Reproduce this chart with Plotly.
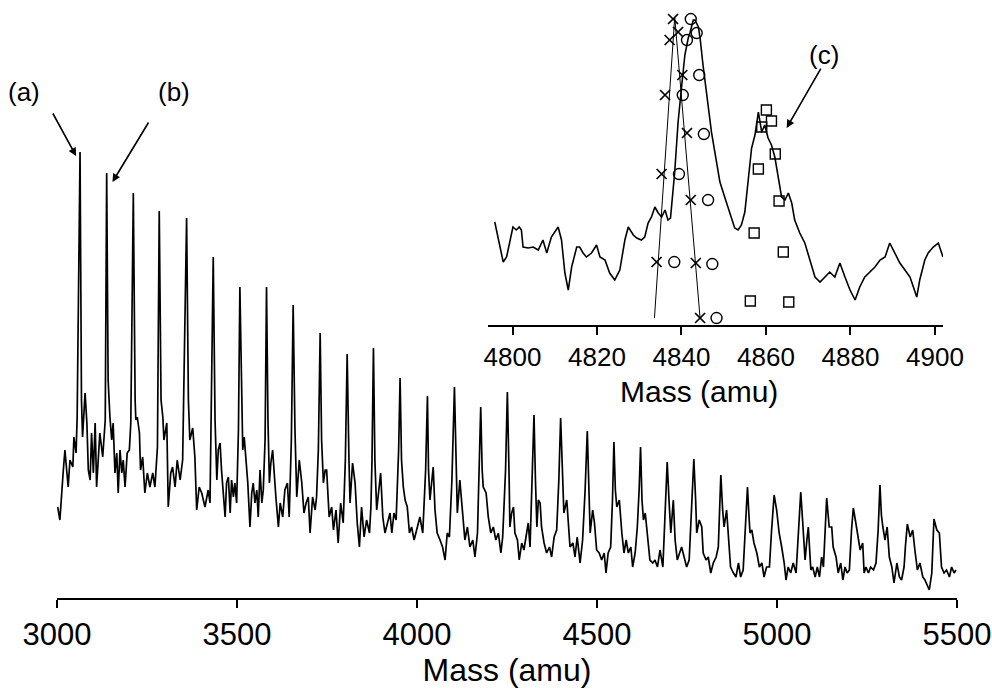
import plotly.graph_objects as go

FONT = "Liberation Sans, Arial, Helvetica, sans-serif"

# ---- main spectrum: mass (amu) and intensity (arb. units), one line per peak period ----
spec_mass = [
    3002, 3008, 3017, 3022, 3031, 3036, 3044, 3047, 3053, 3056,
    3064, 3068, 3071, 3078, 3083, 3087, 3092, 3096, 3101, 3106, 3110, 3115, 3119, 3127, 3131, 3134,
    3138, 3142, 3147, 3152, 3156, 3161, 3166, 3170, 3175, 3180, 3184, 3189, 3195, 3201, 3205,
    3212, 3217, 3219, 3223, 3229, 3232, 3238, 3244, 3251, 3258, 3266, 3272, 3279,
    3284, 3289, 3294, 3297, 3305, 3309, 3316, 3321, 3328, 3334, 3342, 3349,
    3360, 3365, 3369, 3377, 3383, 3388, 3395, 3402, 3411, 3420, 3425,
    3434, 3439, 3444, 3448, 3453, 3457, 3462, 3467, 3471, 3476, 3481, 3485, 3490, 3494, 3499, 3504,
    3508, 3513, 3516, 3520, 3525, 3530, 3536, 3541, 3545, 3550, 3555, 3559, 3564, 3569, 3573, 3578,
    3582, 3586, 3590, 3594, 3599, 3604, 3608, 3615, 3620, 3627, 3633, 3640, 3645, 3651,
    3656, 3661, 3666, 3673, 3680, 3686, 3692, 3698, 3703, 3710, 3717, 3721, 3726,
    3731, 3735, 3740, 3745, 3749, 3756, 3763, 3768, 3775, 3781, 3788, 3795, 3801,
    3806, 3811, 3814, 3821, 3828, 3834, 3840, 3846, 3853, 3860, 3868, 3872, 3875,
    3879, 3883, 3888, 3895, 3899, 3905, 3911, 3918, 3925, 3930, 3936, 3942, 3949,
    3953, 3957, 3962, 3967, 3973, 3979, 3985, 3992, 3999, 4008, 4016, 4024,
    4029, 4032, 4036, 4045, 4050, 4056, 4064, 4071, 4078, 4084, 4090, 4097,
    4104, 4108, 4112, 4119, 4127, 4133, 4140, 4147, 4155, 4161, 4168, 4172,
    4177, 4181, 4184, 4192, 4198, 4205, 4212, 4219, 4226, 4233, 4238, 4246,
    4251, 4256, 4258, 4263, 4268, 4272, 4279, 4284, 4291, 4297, 4303, 4309, 4314, 4319,
    4325, 4329, 4333, 4337, 4342, 4346, 4353, 4360, 4368, 4374, 4381, 4388, 4394,
    4399, 4404, 4408, 4416, 4420, 4425, 4433, 4439, 4445, 4453, 4460, 4467,
    4473, 4477, 4481, 4488, 4493, 4499, 4506, 4513, 4520, 4525, 4531, 4538, 4543,
    4547, 4551, 4555, 4562, 4569, 4575, 4581, 4587, 4594, 4599, 4606, 4612, 4617,
    4621, 4625, 4629, 4634, 4640, 4647, 4655, 4661, 4668, 4675, 4683, 4689,
    4695, 4700, 4705, 4712, 4717, 4723, 4731, 4735, 4742, 4749, 4756, 4762,
    4769, 4774, 4777, 4784, 4791, 4795, 4803, 4809, 4816, 4823, 4831, 4837,
    4844, 4849, 4853, 4860, 4865, 4871, 4879, 4886, 4893, 4899, 4906, 4912,
    4918, 4922, 4925, 4930, 4936, 4944, 4951, 4958, 4964, 4971, 4979, 4985,
    4992, 4999, 5006, 5013, 5020, 5025, 5031, 5038, 5045, 5053, 5059,
    5066, 5071, 5078, 5083, 5087, 5094, 5099, 5106, 5112, 5118, 5124, 5129, 5133,
    5138, 5145, 5152, 5156, 5164, 5170, 5177, 5183, 5189, 5195, 5201, 5207,
    5212, 5219, 5226, 5231, 5238, 5242, 5247, 5254, 5260, 5268, 5275, 5281,
    5286, 5290, 5294, 5300, 5306, 5312, 5319, 5325, 5333, 5340, 5346, 5353, 5357,
    5362, 5370, 5377, 5383, 5390, 5397, 5405, 5411, 5418, 5423, 5430,
    5436, 5444, 5451, 5457, 5464, 5471, 5479, 5485, 5492, 5497,
]
spec_int = [
    91, 78, 125, 148, 111, 138, 131, 161, 145, 181,
    446, 198, 161, 205, 175, 128, 118, 165, 125, 175, 111, 141, 165, 141, 158, 178,
    425, 218, 181, 158, 175, 125, 145, 105, 148, 125, 138, 111, 145, 148, 175,
    405, 198, 178, 181, 165, 128, 141, 105, 125, 111, 125, 111, 151,
    387, 198, 181, 158, 175, 91, 125, 131, 111, 138, 118, 138,
    380, 198, 158, 170, 141, 88, 111, 105, 91, 108, 95,
    341, 178, 118, 148, 155, 128, 108, 81, 115, 121, 85, 118, 101, 115, 95, 168,
    311, 178, 148, 161, 135, 115, 71, 105, 115, 95, 108, 81, 128, 95, 108, 158,
    311, 178, 115, 135, 148, 115, 101, 71, 95, 81, 108, 115, 81, 158,
    293, 168, 101, 138, 115, 85, 95, 101, 65, 101, 88, 101, 148,
    265, 158, 115, 128, 128, 81, 91, 68, 88, 55, 95, 75, 138,
    244, 138, 95, 135, 115, 75, 51, 91, 61, 78, 65, 91, 138,
    250, 138, 88, 111, 125, 81, 65, 75, 85, 65, 85, 78, 148,
    220, 138, 111, 98, 91, 65, 71, 58, 68, 81, 65, 128,
    202, 128, 98, 131, 88, 65, 58, 51, 38, 65, 61, 118,
    211, 128, 85, 118, 78, 58, 71, 51, 58, 41, 65, 118,
    191, 128, 111, 105, 81, 65, 71, 58, 65, 45, 61, 128,
    206, 118, 71, 85, 91, 65, 58, 38, 55, 48, 61, 75, 51, 108,
    183, 118, 71, 98, 95, 71, 55, 45, 51, 41, 61, 68, 118,
    180, 118, 85, 98, 78, 51, 55, 41, 61, 35, 58, 108,
    167, 108, 65, 88, 75, 48, 45, 38, 45, 25, 45, 51, 98,
    156, 108, 91, 98, 65, 45, 58, 45, 51, 31, 45, 71, 108,
    151, 98, 78, 85, 65, 38, 35, 38, 31, 48, 31, 78,
    136, 98, 65, 98, 58, 38, 48, 51, 41, 31, 38, 88,
    139, 98, 65, 78, 71, 45, 38, 41, 25, 35, 41, 51,
    123, 88, 71, 88, 65, 31, 25, 21, 35, 21, 28, 68,
    111, 83, 65, 68, 55, 45, 31, 35, 21, 31, 31, 68,
    103, 88, 65, 51, 35, 18, 31, 25, 35, 25, 58,
    106, 78, 38, 58, 71, 28, 31, 21, 31, 21, 41, 31, 68,
    100, 71, 71, 51, 41, 25, 35, 18, 31, 25, 28, 68,
    90, 75, 58, 48, 55, 25, 31, 25, 31, 28, 35, 68,
    113, 83, 71, 58, 71, 41, 31, 15, 35, 21, 18, 31, 53,
    74, 61, 68, 48, 28, 35, 21, 18, 11, 8, 25,
    79, 68, 65, 31, 25, 28, 21, 31, 25, 28,
]

# ---- inset: zoom on the 4800-4900 amu region ----
inset_mass = [
    4795.8, 4797.8, 4798.6, 4799.8, 4800.1, 4800.9, 4801.6, 4802.1, 4802.5, 4803.7,
    4804.9, 4806.1, 4807.2, 4808.1, 4809.2, 4810.8, 4811.6, 4812.4, 4813.2, 4814.0,
    4815.2, 4815.9, 4816.7, 4817.5, 4818.7, 4819.9, 4820.7, 4821.9, 4823.0, 4824.2,
    4825.4, 4826.6, 4827.4, 4828.6, 4829.4, 4830.5, 4831.3, 4832.1, 4832.9, 4833.7,
    4834.5, 4835.3, 4836.1, 4836.8, 4837.4, 4838.4, 4839.2, 4840.0, 4840.8, 4841.6,
    4842.0, 4842.8, 4843.2, 4844.0, 4844.4, 4845.1, 4845.9, 4847.1, 4848.3, 4849.1,
    4850.3, 4851.5, 4852.6, 4853.4, 4854.2, 4855.0, 4855.8, 4856.6, 4857.4, 4858.2,
    4859.0, 4859.7, 4860.5, 4861.3, 4862.1, 4862.9, 4863.7, 4864.5, 4865.3, 4866.1,
    4866.8, 4868.0, 4869.2, 4870.4, 4871.6, 4872.8, 4874.0, 4875.1, 4876.3, 4877.5,
    4878.7, 4879.9, 4881.1, 4882.2, 4883.4, 4884.6, 4885.8, 4887.0, 4888.2, 4889.3,
    4890.5, 4891.7, 4892.9, 4894.1, 4895.7, 4896.4, 4897.6, 4898.4, 4899.6, 4900.8,
    4901.9,
]
inset_int = [
    103, 63, 68, 92, 98, 95, 98, 95, 78, 77,
    78, 75, 85, 72, 88, 98, 85, 52, 35, 58,
    78, 78, 72, 68, 72, 80, 68, 65, 52, 45,
    55, 85, 98, 90, 87, 85, 88, 102, 108, 118,
    112, 108, 115, 105, 107, 153, 203, 237, 270, 287,
    292, 305, 305, 298, 287, 260, 233, 193, 163, 143,
    127, 110, 97, 95, 100, 113, 147, 177, 190, 213,
    193, 200, 187, 180, 168, 148, 128, 125, 132, 122,
    105, 92, 82, 65, 48, 43, 48, 53, 48, 62,
    48, 35, 25, 38, 48, 53, 58, 65, 68, 82,
    72, 62, 55, 48, 28, 45, 65, 72, 78, 82,
    68,
]

# simulated isotope envelopes
cross_mass = [4838.0, 4837.2, 4839.2, 4840.2, 4836.1, 4841.3, 4835.3, 4842.2, 4834.1, 4843.4, 4844.4]
cross_int = [306, 285, 293, 250, 230, 192, 151, 125, 63, 62, 7]
circle_mass = [4842.2, 4843.6, 4841.3, 4844.2, 4840.3, 4845.3, 4839.4, 4846.3, 4838.3, 4847.3, 4848.3]
circle_int = [306, 292, 285, 250, 230, 191, 151, 125, 63, 61, 7]
square_mass = [4860.1, 4861.3, 4859.0, 4862.2, 4858.2, 4863.1, 4857.2, 4864.1, 4856.3, 4865.4]
square_int = [215, 204, 198, 171, 156, 124, 92, 73, 24, 23]
guide_mass = [4833.6, 4838.4, 4844.4]
guide_int = [7, 308, 7]

main_ticks = [3000, 3500, 4000, 4500, 5000, 5500]
inset_ticks = [4800, 4820, 4840, 4860, 4880, 4900]

fig = go.Figure()
fig.add_trace(go.Scatter(x=spec_mass, y=spec_int, mode="lines",
                         line=dict(color="black", width=1.7), xaxis="x", yaxis="y",
                         hoverinfo="skip"))
fig.add_trace(go.Scatter(x=inset_mass, y=inset_int, mode="lines",
                         line=dict(color="black", width=1.6), xaxis="x2", yaxis="y2"))
fig.add_trace(go.Scatter(x=guide_mass, y=guide_int, mode="lines",
                         line=dict(color="black", width=1), xaxis="x2", yaxis="y2"))
fig.add_trace(go.Scatter(x=cross_mass, y=cross_int, mode="markers",
                         marker=dict(symbol="x-thin-open", size=10, color="black",
                                     line=dict(color="black", width=1.7)),
                         xaxis="x2", yaxis="y2"))
fig.add_trace(go.Scatter(x=circle_mass, y=circle_int, mode="markers",
                         marker=dict(symbol="circle-open", size=11, color="black",
                                     line=dict(color="black", width=1.4)),
                         xaxis="x2", yaxis="y2"))
fig.add_trace(go.Scatter(x=square_mass, y=square_int, mode="markers",
                         marker=dict(symbol="square-open", size=10, color="black",
                                     line=dict(color="black", width=1.4)),
                         xaxis="x2", yaxis="y2"))

axis_common = dict(showline=True, linecolor="black", linewidth=2, ticks="outside",
                   ticklen=8, tickwidth=2, tickcolor="black", showgrid=False,
                   zeroline=False, color="black")

fig.update_layout(
    width=992, height=688,
    margin=dict(l=57, r=35, t=0, b=90),
    paper_bgcolor="white", plot_bgcolor="white",
    showlegend=False,
    font=dict(family=FONT, color="black"),
    xaxis=dict(range=[3000, 5500], domain=[0, 1], tickvals=main_ticks,
               tickfont=dict(size=31, family=FONT), ticklabeloverflow="allow",
               title=dict(text="Mass (amu)", font=dict(size=32, family=FONT), standoff=0),
               **axis_common),
    yaxis=dict(range=[0, 598], visible=False, fixedrange=True),
    xaxis2=dict(range=[4794.2, 4901.9], domain=[0.4789, 0.9844], anchor="y2",
                tickvals=inset_ticks, tickfont=dict(size=26, family=FONT),
                **axis_common),
    yaxis2=dict(range=[0, 320], domain=[0.4565, 0.9916], anchor="x2", visible=False),
)

# inset axis title, set slightly left of the inset's centre
fig.add_annotation(text="Mass (amu)", x=0.7133, y=0.3445, xref="paper", yref="paper",
                   xanchor="center", yanchor="middle", showarrow=False,
                   font=dict(size=30, family=FONT, color="black"))

arrow_style = dict(showarrow=True, arrowhead=2, arrowsize=1, arrowwidth=1.6,
                   arrowcolor="black", text="")
fig.add_annotation(x=3053, y=442, xref="x", yref="y", ax=-24, ay=-44, **arrow_style)
fig.add_annotation(x=3154, y=416, xref="x", yref="y", ax=37, ay=-61, **arrow_style)
fig.add_annotation(x=4864.9, y=197, xref="x2", yref="y2", ax=35, ay=-61, **arrow_style)

label_style = dict(showarrow=False, xref="paper", yref="paper",
                   font=dict(size=26, family=FONT, color="black"))
fig.add_annotation(text="(a)", x=-0.0367, y=0.846, xanchor="center", yanchor="middle", **label_style)
fig.add_annotation(text="(b)", x=0.13, y=0.846, xanchor="center", yanchor="middle", **label_style)
fig.add_annotation(text="(c)", x=0.852, y=0.908, xanchor="center", yanchor="middle", **label_style)

fig.write_html("out.html")
